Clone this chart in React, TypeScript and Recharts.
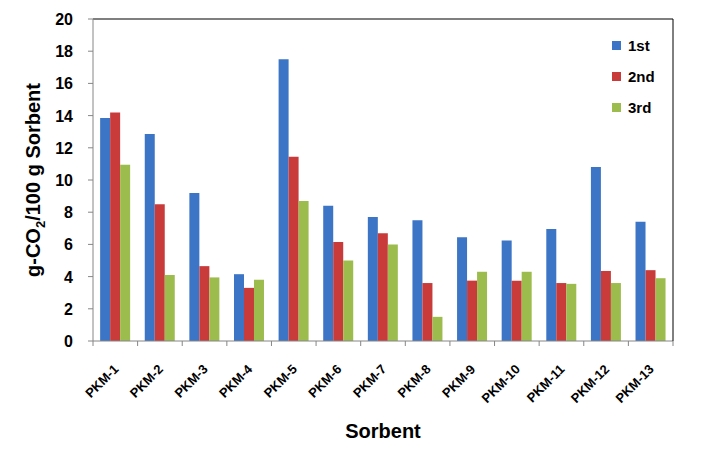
import React from 'react';
import {
  BarChart,
  Bar,
  XAxis,
  YAxis,
  Legend,
  Label,
  ReferenceLine,
} from 'recharts';

const sorbents = ['PKM-1', 'PKM-2', 'PKM-3', 'PKM-4', 'PKM-5', 'PKM-6', 'PKM-7', 'PKM-8', 'PKM-9', 'PKM-10', 'PKM-11', 'PKM-12', 'PKM-13'];
const first = [13.85, 12.85, 9.2, 4.15, 17.5, 8.4, 7.7, 7.5, 6.45, 6.25, 6.95, 10.8, 7.4];
const second = [14.2, 8.5, 4.65, 3.3, 11.45, 6.15, 6.7, 3.6, 3.75, 3.75, 3.6, 4.35, 4.4];
const third = [10.95, 4.1, 3.95, 3.8, 8.7, 5.0, 6.0, 1.5, 4.3, 4.3, 3.55, 3.6, 3.9];
const yTicks = [0, 2, 4, 6, 8, 10, 12, 14, 16, 18, 20];

const data = sorbents.map((name, i) => ({
  name,
  first: first[i],
  second: second[i],
  third: third[i],
}));

const FONT = '"Liberation Sans", Arial, sans-serif';
const AXIS_GRAY = '#868686';

// rotated category labels + tick marks on the category boundaries
const SorbentTick = ({ x, y, payload }: { x?: number; y?: number; payload?: { value: string; offset?: number } }) => {
  const cx = x ?? 0;
  const cy = y ?? 0;
  const half = payload?.offset ?? 0;
  const tx = cx + 4;
  const ty = cy + 21;
  const isLast = payload?.value === sorbents[sorbents.length - 1];
  return (
    <g>
      <line x1={cx - half} x2={cx - half} y1={cy - 8} y2={cy - 3} stroke={AXIS_GRAY} />
      {isLast && <line x1={cx + half} x2={cx + half} y1={cy - 8} y2={cy - 3} stroke={AXIS_GRAY} />}
      <text
        x={tx}
        y={ty}
        transform={`rotate(-45, ${tx}, ${ty})`}
        textAnchor="end"
        fontFamily={FONT}
        fontWeight="bold"
        fontSize={13}
        fill="#000"
      >
        {payload?.value}
      </text>
    </g>
  );
};

const ValueTick = ({ x, y, payload }: { x?: number; y?: number; payload?: { value: number } }) => (
  <text
    x={(x ?? 0) - 13}
    y={(y ?? 0) + 6}
    textAnchor="end"
    fontFamily={FONT}
    fontWeight="bold"
    fontSize={16}
    fill="#000"
  >
    {payload?.value}
  </text>
);

const LegendBox = ({ payload }: { payload?: Array<{ value: string; color: string }> }) => (
  <div style={{ fontFamily: FONT, fontWeight: 'bold', fontSize: 15 }}>
    {(payload || []).map((entry) => (
      <div key={entry.value} style={{ display: 'flex', alignItems: 'center', height: 31 }}>
        <div style={{ width: 9, height: 9, background: entry.color, marginRight: 7 }} />
        <span>{entry.value}</span>
      </div>
    ))}
  </div>
);

export default function App() {
  return (
    <div style={{ position: 'absolute', left: 0, top: 0, background: '#fff' }}>
      <BarChart
        width={713}
        height={459}
        data={data}
        margin={{ top: 19, right: 39, bottom: 0, left: 0 }}
        barCategoryGap="16%"
        barGap={0}
      >
        <XAxis
          dataKey="name"
          height={118}
          interval={0}
          tickLine={false}
          axisLine={{ stroke: AXIS_GRAY }}
          tick={<SorbentTick />}
        >
          <Label
            content={({ viewBox }: any) => (
              <text
                x={viewBox.x + viewBox.width / 2}
                y={viewBox.y + 97}
                textAnchor="middle"
                fontFamily={FONT}
                fontWeight="bold"
                fontSize={20}
                fill="#000"
              >
                Sorbent
              </text>
            )}
          />
        </XAxis>
        <YAxis
          width={93}
          domain={[0, 20]}
          ticks={yTicks}
          interval={0}
          tickSize={5}
          tickLine={{ stroke: AXIS_GRAY }}
          axisLine={{ stroke: AXIS_GRAY }}
          tick={<ValueTick />}
        >
          <Label
            content={({ viewBox }: any) => {
              const cx = viewBox.x + 40;
              const cy = viewBox.y + viewBox.height / 2;
              return (
                <text
                  x={cx}
                  y={cy}
                  transform={`rotate(-90, ${cx}, ${cy})`}
                  textAnchor="middle"
                  fontFamily={FONT}
                  fontWeight="bold"
                  fontSize={20}
                  fill="#000"
                >
                  g-CO
                  <tspan fontSize={13} dy={5}>2</tspan>
                  <tspan dy={-5}>/100 g Sorbent</tspan>
                </text>
              );
            }}
          />
        </YAxis>
        <YAxis
          yAxisId="frame"
          orientation="right"
          width={1}
          domain={[0, 20]}
          tick={false}
          tickLine={false}
          axisLine={{ stroke: '#000' }}
        />
        <ReferenceLine y={20} stroke="#000" strokeWidth={1.2} />
        <Legend
          layout="horizontal"
          verticalAlign="middle"
          align="center"
          wrapperStyle={{ top: 30, left: 612, width: 90 }}
          content={<LegendBox />}
        />
        <Bar dataKey="first" name="1st" fill="#3C74C6" isAnimationActive={false} />
        <Bar dataKey="second" name="2nd" fill="#C93B3B" isAnimationActive={false} />
        <Bar dataKey="third" name="3rd" fill="#9CBC4E" isAnimationActive={false} />
      </BarChart>
    </div>
  );
}
